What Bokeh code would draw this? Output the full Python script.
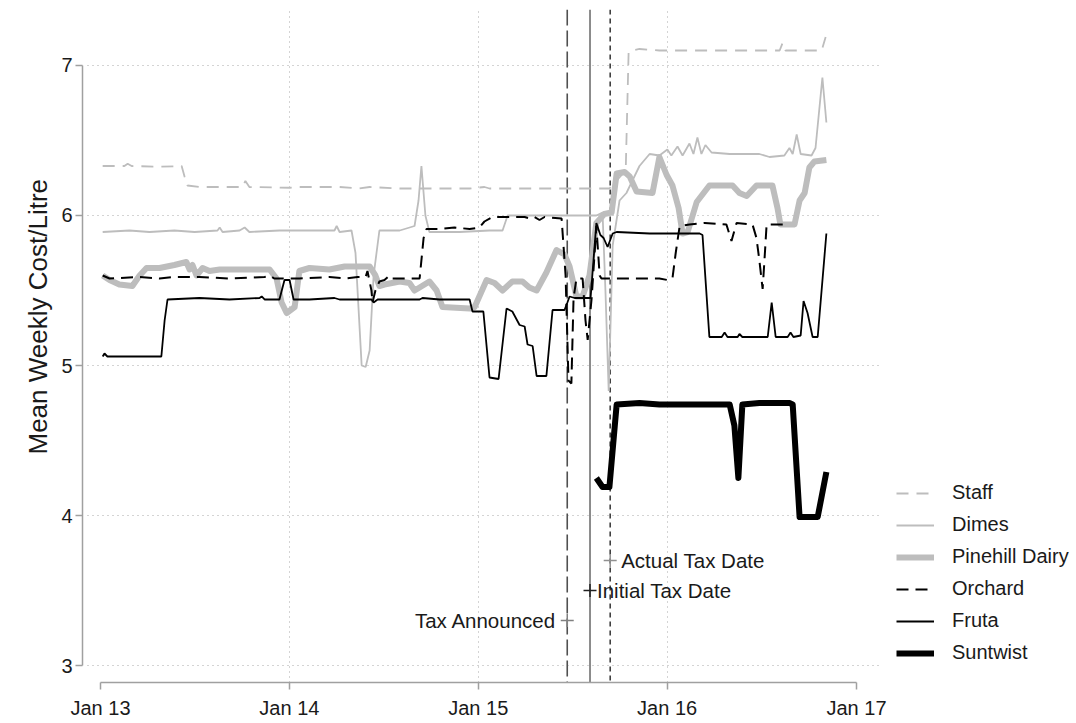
import numpy as np
import pandas as pd
from bokeh.plotting import figure
from bokeh.models import (Range1d, FixedTicker, DatetimeTickFormatter, Legend, LegendItem,
                          Span, ColumnDataSource, Title)
from bokeh.core.properties import value
from bokeh.embed import file_html
from bokeh.resources import INLINE

FONT = "Liberation Sans"
BASE = pd.Timestamp("2013-01-01")

# ---- data: weeks since 1 Jan 2013, mean weekly cost per litre ----
staff_weeks = [0.6, 6.6, 7.5, 8.6, 16.3, 22.4, 23.2, 24.0, 27.3, 35.6, 39.2, 40.0, 41.1, 52.2, 54.9,
               66.0, 71.5, 74.3, 82.6, 93.6, 101.9, 106.0, 107.4, 126.7, 135.0, 140.5, 145.0, 145.8,
               146.9, 148.8, 154.3, 165.4, 176.4, 187.5, 188.3, 189.1, 193.0, 199.1, 200.2]
staff_vals = [6.33, 6.33, 6.345, 6.33, 6.325, 6.33, 6.26, 6.2, 6.19, 6.19, 6.19, 6.23, 6.19, 6.185, 6.19,
              6.19, 6.18, 6.19, 6.18, 6.18, 6.18, 6.19, 6.18, 6.18, 6.18, 6.18, 6.3, 7.09,
              7.1, 7.11, 7.1, 7.1, 7.1, 7.1, 7.15, 7.1, 7.1, 7.1, 7.19]

dimes_weeks = [0.6, 8.0, 13.5, 20.4, 26.0, 32.3, 32.9, 33.7, 38.4, 39.8, 41.1, 49.4, 54.9, 64.6, 65.2,
               66.0, 69.3, 70.4, 72.1, 73.2, 74.3, 75.4, 77.0, 82.6, 86.7, 87.8, 88.6, 89.7, 90.8,
               99.1, 107.4, 111.0, 112.4, 121.2, 135.0, 136.9, 138.6, 139.4, 140.3, 141.4, 143.3,
               145.2, 148.8, 151.6, 154.3, 156.5, 157.6, 159.3, 160.7, 162.6, 163.7, 164.8, 165.9,
               167.0, 168.7, 173.7, 181.9, 184.7, 188.8, 190.2, 191.1, 192.2, 193.3, 196.3, 197.4,
               199.3, 200.4]
dimes_vals = [5.89, 5.9, 5.89, 5.9, 5.89, 5.9, 5.92, 5.89, 5.9, 5.92, 5.89, 5.9, 5.9, 5.9, 5.93,
              5.89, 5.9, 5.75, 5.0, 4.99, 5.1, 5.6, 5.9, 5.9, 5.93, 6.1, 6.33, 6.0, 5.89,
              5.89, 5.9, 5.9, 6.0, 6.0, 6.0, 6.0, 6.02, 5.5, 4.83, 5.8, 6.1,
              6.15, 6.33, 6.41, 6.4, 6.44, 6.4, 6.46, 6.4, 6.48, 6.41, 6.52, 6.41,
              6.47, 6.42, 6.41, 6.41, 6.39, 6.4, 6.45, 6.41, 6.54, 6.41, 6.4, 6.45,
              6.92, 6.62]

pinehill_weeks = [0.6, 2.5, 5.2, 8.8, 10.8, 12.7, 16.3, 20.4, 23.7, 24.6, 25.4, 26.5, 28.2, 30.1, 32.9,
                  41.1, 46.7, 48.6, 50.0, 51.4, 53.6, 54.9, 57.7, 63.2, 67.4, 74.3, 75.9, 77.0, 78.4,
                  82.6, 85.3, 86.7, 88.1, 90.8, 92.8, 94.4, 101.9, 103.3, 106.6, 108.8, 111.0, 113.7,
                  116.5, 118.4, 120.4, 123.1, 125.9, 128.1, 129.5, 131.4, 133.1, 135.0, 136.9, 139.1,
                  141.1, 142.5, 144.7, 146.1, 148.0, 152.4, 154.3, 156.3, 157.9, 159.6, 160.7, 162.1,
                  164.6, 168.1, 174.5, 176.4, 178.4, 181.1, 185.5, 186.9, 187.7, 191.6, 193.0, 194.4,
                  195.7, 197.1, 200.4]
pinehill_vals = [5.6, 5.57, 5.54, 5.53, 5.6, 5.65, 5.65, 5.67, 5.69, 5.64, 5.67, 5.6, 5.65, 5.63, 5.64,
                 5.64, 5.64, 5.58, 5.42, 5.35, 5.39, 5.63, 5.65, 5.64, 5.66, 5.66, 5.6, 5.53, 5.54,
                 5.56, 5.55, 5.5, 5.52, 5.56, 5.5, 5.39, 5.38, 5.39, 5.57, 5.55, 5.5, 5.56,
                 5.56, 5.52, 5.5, 5.62, 5.77, 5.74, 5.66, 5.46, 5.46, 5.6, 5.95, 6.01,
                 6.02, 6.28, 6.29, 6.26, 6.16, 6.15, 6.39, 6.27, 6.2, 6.05, 5.88, 5.89,
                 6.09, 6.2, 6.2, 6.15, 6.13, 6.2, 6.2, 6.05, 5.94, 5.94, 6.1, 6.15,
                 6.32, 6.36, 6.37]

orchard_weeks = [0.6, 2.5, 10.8, 16.3, 20.4, 27.3, 35.6, 45.3, 46.7, 48.0, 52.2, 54.9, 63.2, 67.4, 71.0,
                 73.2, 73.7, 74.8, 75.1, 75.9, 77.0, 78.4, 79.8, 80.6, 82.6, 88.1, 89.2, 90.0, 93.6,
                 97.7, 101.9, 104.6, 106.0, 108.2, 112.9, 117.1, 118.4, 119.8, 121.2, 122.6, 127.3,
                 128.4, 129.2, 130.0, 130.6, 131.4, 133.1, 133.9, 134.5, 135.6, 136.9, 137.8, 138.3,
                 143.3, 148.8, 154.3, 156.5, 157.9, 158.8, 159.9, 162.6, 166.8, 172.8, 174.2, 175.6,
                 180.0, 181.1, 181.9, 182.8, 183.3, 183.9, 187.5, 190.2]
orchard_vals = [5.6, 5.58, 5.59, 5.58, 5.59, 5.59, 5.58, 5.59, 5.6, 5.58, 5.58, 5.58, 5.59, 5.58, 5.59,
                5.59, 5.63, 5.5, 5.42, 5.5, 5.56, 5.57, 5.6, 5.58, 5.58, 5.58, 5.85, 5.91, 5.91,
                5.92, 5.91, 5.92, 5.96, 5.99, 5.99, 5.99, 5.98, 5.99, 5.97, 5.99, 5.98,
                5.6, 4.9, 4.88, 5.45, 5.58, 5.58, 5.3, 5.17, 5.45, 5.93, 5.6, 5.58,
                5.58, 5.58, 5.58, 5.57, 5.58, 5.75, 5.93, 5.94, 5.95, 5.94, 5.83, 5.95,
                5.94, 5.85, 5.7, 5.51, 5.7, 5.94, 5.94, 5.94]

fruta_weeks = [0.6, 1.1, 1.9, 5.2, 10.8, 16.8, 17.7, 18.5, 27.3, 35.6, 43.9, 44.5, 45.3, 49.4, 50.8,
               52.2, 53.3, 57.7, 64.6, 66.0, 74.8, 75.4, 76.5, 82.6, 88.1, 88.9, 93.6, 101.9, 102.7,
               105.7, 107.4, 109.9, 112.1, 113.7, 115.7, 117.1, 117.9, 119.3, 120.4, 123.1, 124.8,
               128.1, 128.9, 129.5, 130.9, 135.3, 136.1, 136.9, 138.0, 138.9, 140.0, 141.4, 142.5,
               151.6, 159.9, 165.4, 166.2, 168.1, 171.5, 172.3, 173.1, 175.9, 176.4, 177.2, 184.2,
               185.3, 186.4, 189.7, 190.5, 191.3, 193.3, 194.1, 195.2, 196.6, 198.0, 200.4]
fruta_vals = [5.06, 5.08, 5.06, 5.06, 5.06, 5.06, 5.3, 5.44, 5.45, 5.44, 5.45, 5.46, 5.44, 5.44, 5.57,
              5.57, 5.44, 5.44, 5.45, 5.44, 5.44, 5.42, 5.44, 5.44, 5.44, 5.45, 5.44, 5.44, 5.36,
              5.36, 4.92, 4.91, 5.38, 5.36, 5.27, 5.26, 5.14, 5.13, 4.93, 4.93, 5.37,
              5.37, 5.42, 5.46, 5.45, 5.45, 5.7, 5.95, 5.87, 5.85, 5.79, 5.88, 5.89,
              5.88, 5.88, 5.88, 5.87, 5.19, 5.19, 5.22, 5.19, 5.19, 5.21, 5.19, 5.19,
              5.42, 5.19, 5.19, 5.22, 5.19, 5.2, 5.43, 5.35, 5.19, 5.19, 5.88]

suntwist_weeks = [136.9, 138.6, 140.5, 142.5, 148.8, 154.3, 165.4, 173.7, 175.0, 176.1, 177.2, 181.9,
                  190.2, 191.1, 193.0, 198.0, 200.4]
suntwist_vals = [4.25, 4.19, 4.19, 4.74, 4.75, 4.74, 4.74, 4.74, 4.6, 4.25, 4.74, 4.75,
                 4.75, 4.74, 3.99, 3.99, 4.29]

event_labels = ["Tax Announced", "Initial Tax Date", "Actual Tax Date"]
event_dates = ["2015-06-22", "2015-08-05", "2015-09-13"]
event_label_y = [3.3, 3.5, 3.7]

year_labels = ["Jan 13", "Jan 14", "Jan 15", "Jan 16", "Jan 17"]
y_ticks = [3, 4, 5, 6, 7]


def to_dt(weeks):
    return BASE + pd.to_timedelta(np.array(weeks) * 7.0, unit="D")


def ms(ts):
    return pd.Timestamp(ts).value / 1e6


DAYS_PER_PX = 365.25 / 189.0
year_ms = [ms(f"20{lab[-2:]}-01-01") for lab in year_labels]

FRAME_W = 990
x_start = ms(BASE - pd.Timedelta(days=18 * DAYS_PER_PX))
x_end = ms(BASE + pd.Timedelta(days=(FRAME_W - 18) * DAYS_PER_PX))
grid_x0 = ms(BASE - pd.Timedelta(days=13 * DAYS_PER_PX))
grid_x1 = ms(BASE + pd.Timedelta(days=779 * DAYS_PER_PX))

p = figure(frame_width=FRAME_W, frame_height=673, x_axis_type="datetime",
           x_range=Range1d(x_start, x_end), y_range=Range1d(2.8867, 7.3733),
           output_backend="svg", toolbar_location=None,
           min_border_left=82, min_border_right=0, min_border_top=9, min_border_bottom=20)
p.outline_line_color = None
p.background_fill_color = "white"
p.border_fill_color = "white"

# axes
for ax in (p.xaxis[0], p.yaxis[0]):
    ax.axis_line_color = "#a0a0a0"
    ax.axis_line_width = 1.5
    ax.major_tick_line_color = "#a0a0a0"
    ax.major_tick_line_width = 1.5
    ax.major_tick_in = 0
    ax.major_tick_out = 7
    ax.minor_tick_line_color = None
    ax.major_label_text_font = FONT
    ax.major_label_text_font_size = "20px"
    ax.major_label_text_color = "#1a1a1a"

p.xaxis.ticker = FixedTicker(ticks=year_ms)
fmt = "%b %y"
p.xaxis.formatter = DatetimeTickFormatter(years=fmt, months=fmt, days=fmt, hours=fmt)
p.xaxis.bounds = (year_ms[0], year_ms[-1])
p.xaxis.major_label_standoff = 7

p.yaxis.ticker = FixedTicker(ticks=y_ticks)
p.yaxis.bounds = (3, 7)
p.yaxis.major_label_standoff = 3

p.add_layout(Title(text="Mean Weekly Cost/Litre", text_font=FONT, text_font_size="26px",
                   text_font_style="normal", text_color="#1a1a1a", align="left",
                   offset=228, standoff=12), "left")

# grids (horizontal ones drawn only across the data area)
p.xgrid.ticker = FixedTicker(ticks=year_ms[1:4])
p.xgrid.grid_line_color = "#a8a8a8"
p.xgrid.grid_line_dash = "1 4"
p.ygrid.visible = False
p.segment(x0=grid_x0, x1=grid_x1, y0=y_ticks, y1=y_ticks, line_color="#a8a8a8",
          line_dash="1 4", line_width=1, level="underlay")

# event lines
p.add_layout(Span(location=ms(event_dates[0]), dimension="height", line_color="#505050",
                  line_width=1.6, line_dash="16 5", level="underlay"))
p.add_layout(Span(location=ms(event_dates[1]), dimension="height", line_color="#707070",
                  line_width=1.6, level="underlay"))
p.add_layout(Span(location=ms(event_dates[2]), dimension="height", line_color="#404040",
                  line_width=1.6, line_dash="5 4", level="underlay"))

# series
LG = "#bdbdbd"
r_staff = p.line(to_dt(staff_weeks), staff_vals, line_color=LG, line_width=1.8, line_dash="12 8")
r_dimes = p.line(to_dt(dimes_weeks), dimes_vals, line_color=LG, line_width=1.8)
r_pine = p.line(to_dt(pinehill_weeks), pinehill_vals, line_color=LG, line_width=6, line_join="round")
r_orch = p.line(to_dt(orchard_weeks), orchard_vals, line_color="black", line_width=2, line_dash="12 7")
r_fruta = p.line(to_dt(fruta_weeks), fruta_vals, line_color="black", line_width=1.8)
r_sun = p.line(to_dt(suntwist_weeks), suntwist_vals, line_color="black", line_width=6, line_join="round")

# event markers and labels
ev_src = ColumnDataSource(dict(x=[pd.Timestamp(d) for d in event_dates], y=event_label_y,
                               text=event_labels, color=["#808080", "#202020", "#909090"]))
p.scatter("x", "y", source=ev_src, marker="cross", size=13, line_color="color", line_width=1.5)
p.text(x=[pd.Timestamp(event_dates[0])], y=[event_label_y[0]], text=[event_labels[0]],
       text_align="right", text_baseline="middle", x_offset=-11,
       text_font=value(FONT), text_font_size="20.5px", text_color="#1a1a1a")
p.text(x=[pd.Timestamp(d) for d in event_dates[1:]], y=event_label_y[1:], text=event_labels[1:],
       text_align="left", text_baseline="middle", x_offset=[7, 11],
       text_font=value(FONT), text_font_size="20.5px", text_color="#1a1a1a")

legend = Legend(items=[
    LegendItem(label="Staff", renderers=[r_staff]),
    LegendItem(label="Dimes", renderers=[r_dimes]),
    LegendItem(label="Pinehill Dairy", renderers=[r_pine]),
    LegendItem(label="Orchard", renderers=[r_orch]),
    LegendItem(label="Fruta", renderers=[r_fruta]),
    LegendItem(label="Suntwist", renderers=[r_sun]),
], location=(814, 18), glyph_width=38, glyph_height=20, label_height=20, spacing=9,
    padding=0, margin=0, border_line_alpha=0, background_fill_alpha=0,
    label_text_font=FONT, label_text_font_size="20px", label_standoff=18,
    label_text_color="#1a1a1a")
p.add_layout(legend)

open("out.html", "w").write(file_html(p, INLINE))
